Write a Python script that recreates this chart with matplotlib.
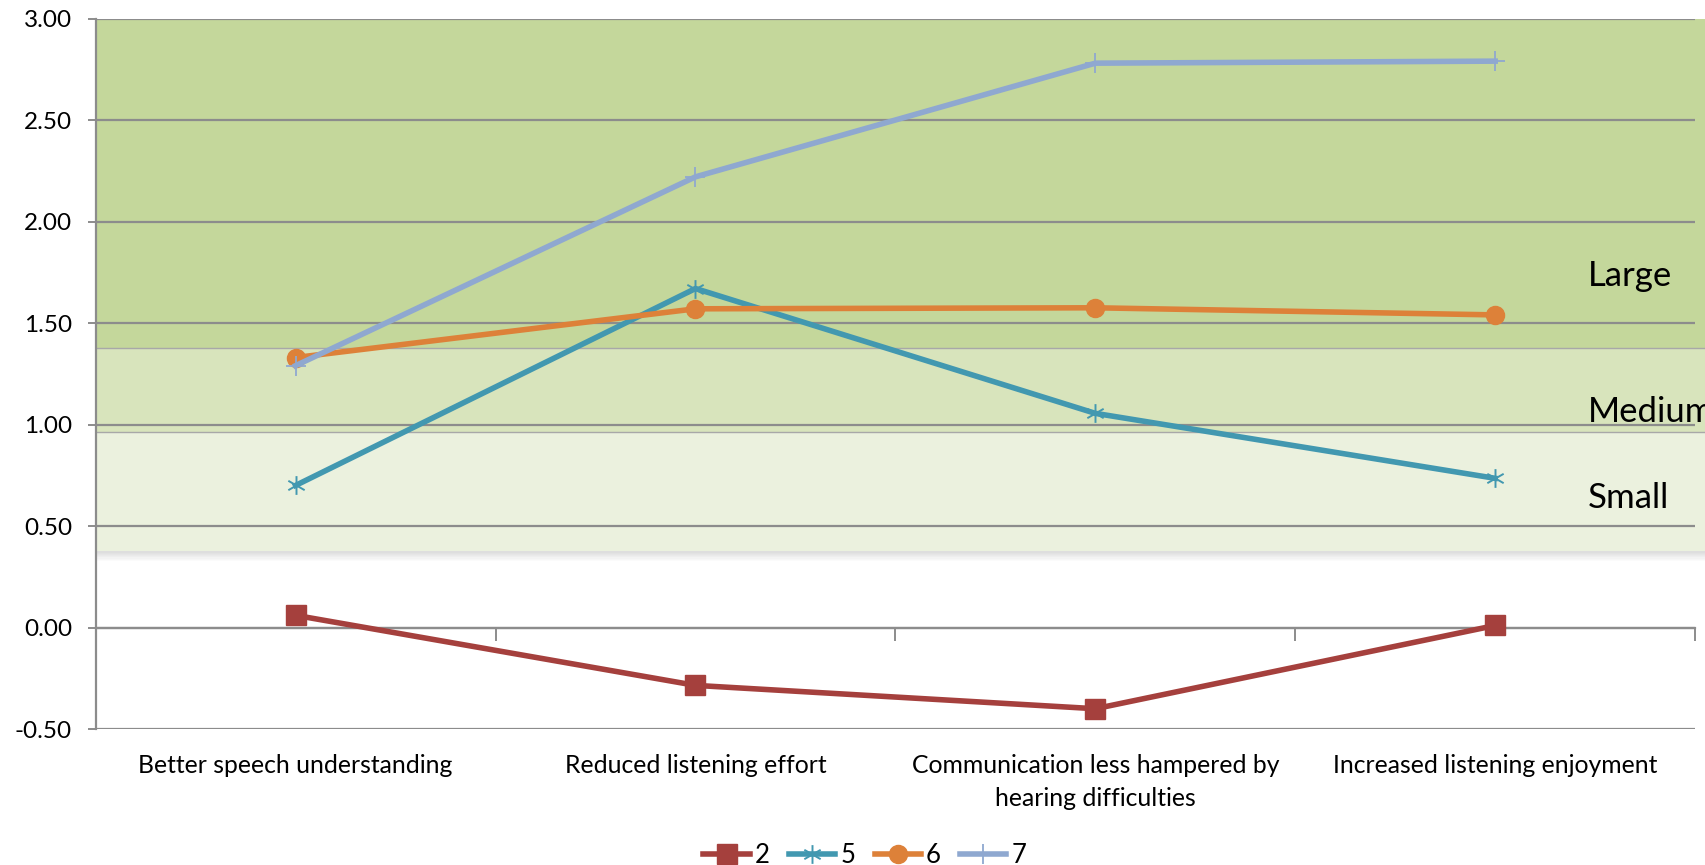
import matplotlib
matplotlib.use("Agg")
import matplotlib.pyplot as plt
from matplotlib.path import Path
from matplotlib.lines import Line2D

plt.rcParams['font.family'] = ['Lato', 'DejaVu Sans']

# ---- data ----
categories = ["Better speech understanding", "Reduced listening effort",
              "Communication less hampered by\nhearing difficulties",
              "Increased listening enjoyment"]
series_names = ["2", "5", "6", "7"]
s2 = [0.06, -0.285, -0.40, 0.01]
s5 = [0.70, 1.67, 1.055, 0.735]
s6 = [1.33, 1.57, 1.575, 1.54]
s7 = [1.29, 2.22, 2.78, 2.79]

# effect size bands (lower, upper, label)
band_edges = [0.375, 0.965, 1.378, 3.0]
band_names = ["Small", "Medium", "Large"]
band_label_y = [0.64, 1.06, 1.73]

# ---- styles ----
colors = ["#A5403D", "#4298B0", "#DD8139", "#8FA8D0"]
band_colors = ["#EBF1DE", "#D8E4BC", "#C4D79B"]
grid_col = "#8C8C8C"

# asterisk marker like excel's star
star = Path([(0, -1), (0, 1), (-0.87, -0.5), (0.87, 0.5), (-0.87, 0.5), (0.87, -0.5)],
            [Path.MOVETO, Path.LINETO, Path.MOVETO, Path.LINETO, Path.MOVETO, Path.LINETO])

fig = plt.figure(figsize=(17.06, 8.65), dpi=100)
ax = fig.add_axes([0.0561, 0.1572, 0.9375, 0.8214])
ax.set_xlim(-0.5, 3.5)
ax.set_ylim(-0.5, 3.0)

# bands run a bit past the plot area on the right
x_over = (1706 - 95.7) / (1695 - 95.7)
for i in range(3):
    r = ax.axhspan(band_edges[i], band_edges[i + 1], xmin=0, xmax=x_over,
                   color=band_colors[i], zorder=0, lw=0)
    r.set_clip_on(False)
for e in band_edges[1:3]:
    ln = ax.axhline(e, xmin=0, xmax=x_over, color="#A8A8A8", lw=1.0, zorder=0.5)
    ln.set_clip_on(False)
# soft shadow under the bands
for k in range(8):
    y0 = band_edges[0] - (k + 1) * 0.006
    sh = ax.axhspan(y0, y0 + 0.006, xmin=0, xmax=x_over, color="black",
                    alpha=0.13 * (1 - k / 8), lw=0, zorder=0.2)
    sh.set_clip_on(False)

for name, y in zip(band_names, band_label_y):
    ax.text(3.232, y, name, fontsize=25, va="center", ha="left", clip_on=False)

# gridlines
ax.set_yticks([-0.5, 0, 0.5, 1.0, 1.5, 2.0, 2.5, 3.0])
ax.set_yticklabels(["%.2f" % v for v in ax.get_yticks()], fontsize=17.5)
ax.yaxis.grid(True, color=grid_col, lw=1.6, zorder=1)
ax.set_axisbelow(False)
for sp in ["top", "right", "bottom"]:
    ax.spines[sp].set_visible(False)
ax.spines["left"].set_color(grid_col)
ax.spines["left"].set_linewidth(1.6)
ax.spines["left"].set_zorder(1)
ax.tick_params(axis="y", length=6, width=1.4, color=grid_col, pad=11)

# category labels along the bottom
ax.set_xticks(range(len(categories)))
ax.set_xticklabels(categories, fontsize=17.8, linespacing=1.55)
ax.tick_params(axis="x", length=0, pad=18)

# horizontal axis line crossing at zero with boundary ticks
sec = ax.secondary_xaxis(0, transform=ax.transData)
sec.set_xticks([0.5, 1.5, 2.5, 3.5])
sec.set_xticklabels([])
sec.tick_params(length=9, width=1.4, color=grid_col, direction="out")
sec.spines["bottom"].set_color(grid_col)
sec.spines["bottom"].set_linewidth(1.6)

x = range(len(categories))
lw = 4.0
ax.plot(x, s2, color=colors[0], lw=lw, marker="s", ms=14, zorder=3)
ax.plot(x, s5, color=colors[1], lw=lw, marker=star, ms=13.5, mew=1.4,
        mec=colors[1], zorder=3)
ax.plot(x, s6, color=colors[2], lw=lw, marker="o", ms=13, zorder=3)
ax.plot(x, s7, color=colors[3], lw=lw, marker="+", ms=14, mew=1.3, zorder=3)

handles = [
    Line2D([], [], color=colors[0], lw=lw, marker="s", ms=14),
    Line2D([], [], color=colors[1], lw=lw, marker=star, ms=13.5, mew=1.4),
    Line2D([], [], color=colors[2], lw=lw, marker="o", ms=13),
    Line2D([], [], color=colors[3], lw=lw, marker="+", ms=14, mew=1.3),
]
fig.legend(handles, series_names, loc="lower center", ncol=4, frameon=False,
           fontsize=18.5, bbox_to_anchor=(0.507, -0.03), handlelength=1.8,
           handletextpad=0.2, columnspacing=0.75)

fig.savefig("out.png", dpi=100)
